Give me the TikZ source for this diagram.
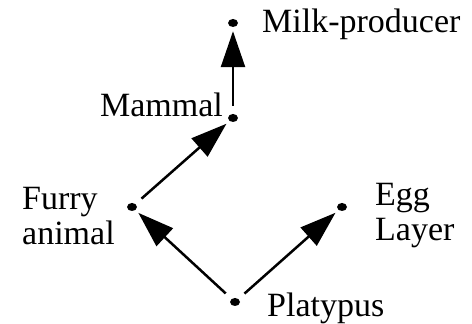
\documentclass[tikz,border=0pt]{standalone}
\usepackage{fontspec}
\setmainfont{Liberation Serif}
\usetikzlibrary{arrows.meta,shapes.geometric}
\tikzset{
  dot/.style={ellipse,fill=black,draw=none,minimum width=10pt,minimum height=8pt,inner sep=0pt},
  lbl/.style={inner sep=0pt,font=\fontsize{34}{35}\selectfont,align=left},
  arr/.style={line width=2.5pt,-{Triangle[length=36pt,width=24pt]},shorten <=8pt,shorten >=4pt}
}
\begin{document}
\begin{tikzpicture}[x=1pt,y=1pt]
\useasboundingbox (0,0) rectangle (472,324);
\node[dot] (milk) at (233,301) {};
\node[dot] (mam) at (233,206) {};
\node[dot] (fur) at (132,117) {};
\node[dot] (egg) at (342,117) {};
\node[dot] (pla) at (235,22) {};
\node[lbl,anchor=base west] (milkl) at (262,291) {Milk-producer};
\node[lbl,anchor=base east] (maml) at (223,207) {Mammal};
\node[lbl,anchor=west] (furl) at (22,108) {Furry\\animal};
\node[lbl,anchor=west] (eggl) at (375,108) {Egg\\Layer};
\node[lbl,anchor=base west] (plal) at (267,7) {Platypus};
\draw[arr] (mam) -- (milk);
\draw[arr] (fur) -- (mam);
\draw[arr] (pla) -- (fur);
\draw[arr] (pla) -- (egg);
\end{tikzpicture}
\end{document}
